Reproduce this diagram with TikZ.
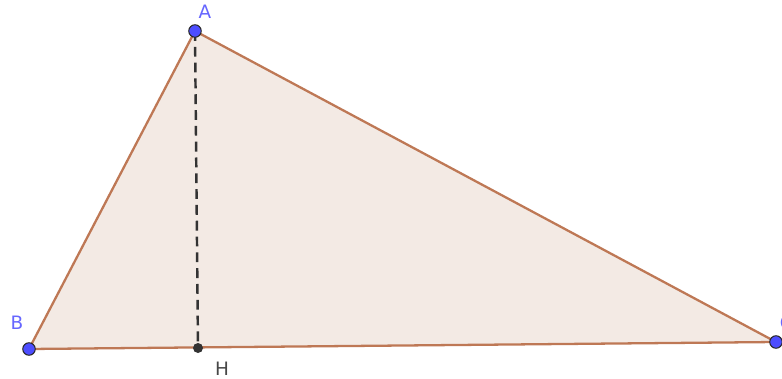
\documentclass[tikz,border=0pt]{standalone}
\usepackage{fontspec}
\setsansfont{DejaVu Sans}
\usepackage{xcolor}
\usepackage{tikz}

\definecolor{edgebrown}{RGB}{190,120,85}
\definecolor{fillbrown}{RGB}{243,234,228}
\definecolor{ptblue}{RGB}{77,77,255}
\definecolor{lblblue}{RGB}{102,102,255}
\definecolor{darkpt}{RGB}{51,51,51}

\begin{document}
\begin{tikzpicture}[
    x=0.02cm, y=-0.02cm,
    tri/.style={draw=edgebrown, fill=fillbrown, line width=1.3pt, line join=round},
    height/.style={draw=darkpt, line width=1.4pt, dash pattern=on 5.6pt off 3.4pt},
    pt/.style={circle, draw=darkpt!80!black, fill=ptblue, line width=0.6pt,
               inner sep=0pt, minimum size=0.25cm},
    foot/.style={circle, fill=darkpt, inner sep=0pt, minimum size=0.2cm},
    lbl/.style={font=\sffamily\fontsize{10.5}{12}\selectfont, text=lblblue, inner sep=0pt},
    footlbl/.style={font=\sffamily\fontsize{10.5}{12}\selectfont, text=darkpt!90, inner sep=0pt}
  ]
    \useasboundingbox (0,0) rectangle (782,379);

    \coordinate (A) at (195,31);
    \coordinate (B) at (29,349);
    \coordinate (C) at (776,342);
    \coordinate (H) at (198,348);

    \path[tri] (A) -- (B) -- (C) -- cycle;
    \draw[height] (A) -- (H);

    \node[foot] (dotH) at (H) {};
    \node[pt] (dotA) at (A) {};
    \node[pt] (dotB) at (B) {};
    \node[pt] (dotC) at (C) {};

    \node[lbl] (labA) at (205,12) {A};
    \node[lbl] (labB) at (17,323) {B};
    \node[lbl, anchor=west] (labC) at (779.5,323) {C};
    \node[footlbl] (labH) at (222,369) {H};
\end{tikzpicture}
\end{document}
